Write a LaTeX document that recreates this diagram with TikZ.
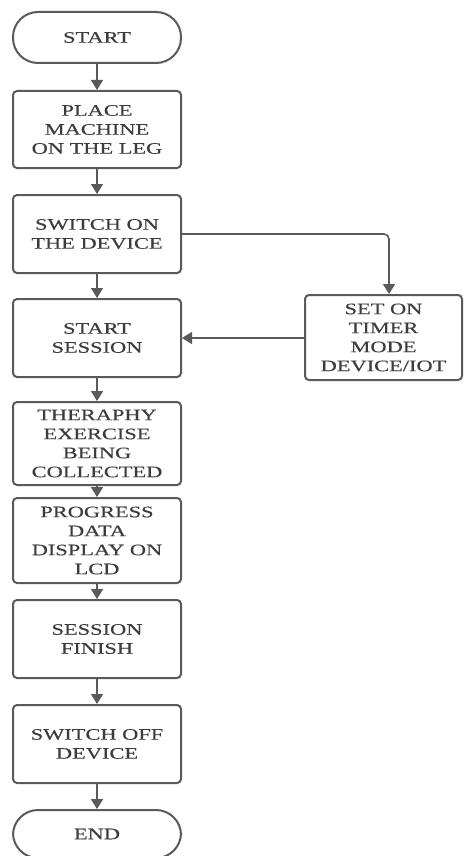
\documentclass[tikz,border=0pt]{standalone}
\usepackage{fontspec}
\usetikzlibrary{arrows.meta}
\newfontfamily\boxfont[FakeStretch=1.4,FakeBold=0.3]{Liberation Serif}
\definecolor{inkgrey}{HTML}{3C3C3C}
\definecolor{linegrey}{HTML}{5A5A5A}
\begin{document}
\begin{tikzpicture}[x=1pt,y=-1pt,
  box/.style={draw=linegrey, line width=2pt, rounded corners=4pt, fill=white,
    align=center, inner sep=0pt, text=inkgrey,
    font=\boxfont\fontsize{16}{19}\selectfont},
  mainbox/.style={box, minimum width=168pt},
  terminal/.style={box, minimum width=168pt, minimum height=51pt, rounded corners=25pt},
  flow/.style={draw=linegrey, line width=1.6pt, -{Triangle[width=12pt,length=10pt]}},
]
\useasboundingbox (0,0) rectangle (464,856);

% main column
\node[terminal] (start) at (97,37.5) {START};
\node[mainbox, minimum height=77pt] (place) at (97,129.5) {PLACE\\MACHINE\\ON THE LEG};
\node[mainbox, minimum height=78pt] (swon) at (97,234) {SWITCH ON\\THE DEVICE};
\node[mainbox, minimum height=78pt] (sess) at (97,338) {START\\SESSION};
\node[mainbox, minimum height=83pt] (ther) at (97,443.5) {THERAPHY\\EXERCISE\\BEING\\COLLECTED};
\node[mainbox, minimum height=85pt] (prog) at (97,540.5) {PROGRESS\\DATA\\DISPLAY ON\\LCD};
\node[mainbox, minimum height=78pt] (fin) at (97,639) {SESSION\\FINISH};
\node[mainbox, minimum height=78pt] (swoff) at (97,744) {SWITCH OFF\\DEVICE};
\node[terminal, minimum height=48pt] (end) at (97,834) {END};

% side branch
\node[box, minimum width=157pt, minimum height=85pt] (timer) at (383.5,337.5) {SET ON\\TIMER\\MODE\\DEVICE/IOT};
\coordinate (turn) at (389,234);

% connectors
\draw[flow] (start) -- (place);
\draw[flow] (place) -- (swon);
\draw[flow] (swon) -- (sess);
\draw[flow] (sess) -- (ther);
\draw[flow] (ther) -- (prog);
\draw[flow] (prog) -- (fin);
\draw[flow] (fin) -- (swoff);
\draw[flow] (swoff) -- (end);
\draw[flow, rounded corners=5pt] (swon.east) -- (turn) -- (turn |- timer.north);
\draw[flow] (timer.west |- sess.east) -- (sess.east);
\end{tikzpicture}
\end{document}
